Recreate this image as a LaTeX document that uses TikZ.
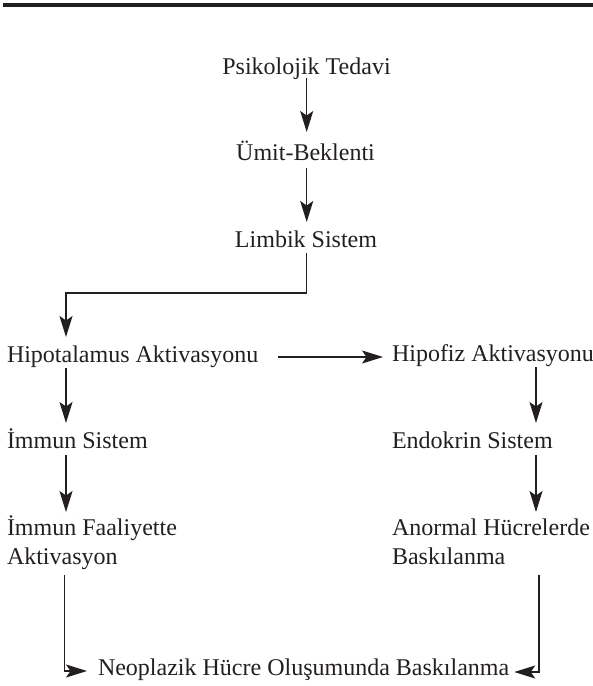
\documentclass[tikz,border=0pt]{standalone}
\usepackage{fontspec}
\setmainfont{Liberation Serif}
\usetikzlibrary{arrows.meta,calc}
\definecolor{ink}{HTML}{231F20}
\begin{document}
\begin{tikzpicture}[x=1pt,y=-1pt,
  lbl/.style={font=\fontsize{24}{29}\selectfont, inner sep=0pt, outer sep=0pt, text=ink},
  conn/.style={draw=ink, line width=1.3pt},
  arr/.style={conn, -{Stealth[length=21pt,width=13pt,inset=4.5pt]}}]
\useasboundingbox (0,0) rectangle (593,686);
\fill[ink] (3.3,2.7) rectangle (593,6.7);

\node[lbl, anchor=base] (ptd) at (306.5,74) {Psikolojik Tedavi};
\node[lbl, anchor=base] (umt) at (305.5,160) {Ümit-Beklenti};
\node[lbl, anchor=base] (lim) at (306,247) {Limbik Sistem};
\node[lbl, anchor=base west] (hip) at (7,362) {Hipotalamus Aktivasyonu};
\node[lbl, anchor=base west] (hpf) at (392,361) {Hipofiz Aktivasyonu};
\node[lbl, anchor=base west] (imm) at (7,448) {İmmun Sistem};
\node[lbl, anchor=base west] (end) at (392,448) {Endokrin Sistem};
\node[lbl, anchor=base west] (imf) at (7,535) {\begin{tabular}[t]{@{}l@{}}İmmun Faaliyette\\Aktivasyon\end{tabular}};
\node[lbl, anchor=base west] (ano) at (392,535) {\begin{tabular}[t]{@{}l@{}}Anormal Hücrelerde\\Baskılanma\end{tabular}};
\node[lbl, anchor=base west] (neo) at (98,675) {Neoplazik Hücre Oluşumunda Baskılanma};

\coordinate (M) at (306.7,0);
\coordinate (L) at (66,0);
\coordinate (R) at (536,0);
\coordinate (LB) at (64.5,0);
\coordinate (RB) at (539,0);

\draw[arr] ($(ptd.base -| M)+(0,4)$) -- ($(umt.base -| M)+(0,-28)$);
\draw[arr] ($(umt.base -| M)+(0,8)$) -- ($(lim.base -| M)+(0,-25)$);
\draw[arr] ($(lim.base -| M)+(0,6)$) -- ++(0,40) -| ($(hip.base -| L)+(0,-25)$);
\draw[arr] ($(hip.base -| L)+(0,6)$) -- ($(imm.base -| L)+(0,-25)$);
\draw[arr] ($(imm.base -| L)+(0,7)$) -- ($(imf.base -| L)+(0,-23)$);
\draw[arr] ($(hpf.base -| R)+(0,6)$) -- ($(end.base -| R)+(0,-25)$);
\draw[arr] ($(end.base -| R)+(0,7)$) -- ($(ano.base -| R)+(0,-23)$);
\coordinate (H1) at ($(hip.base east)+(20,-5)$);
\draw[arr] (H1) -- ($(H1 -| hpf.west)+(-9,0)$);
\draw[arr] ($(imf.base -| LB)+(0,40)$) |- ($(neo.base west)+(-11,-4)$);
\draw[arr] ($(ano.base -| RB)+(0,40)$) |- ($(neo.base east)+(5,-3)$);
\end{tikzpicture}
\end{document}
